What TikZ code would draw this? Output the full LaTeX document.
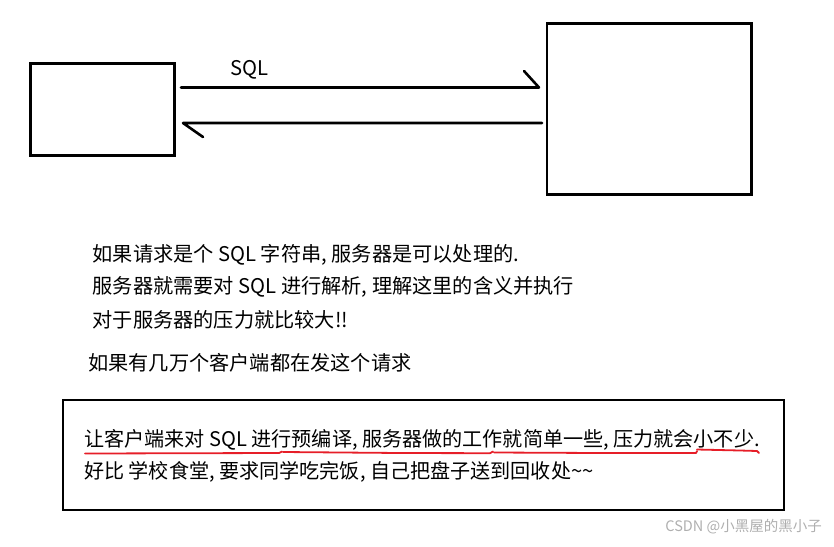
\documentclass[tikz,border=0pt]{standalone}
\usepackage{fontspec}
\setmainfont{Noto Sans CJK SC}
\usetikzlibrary{calc}
\definecolor{ulred}{RGB}{230,30,40}
\definecolor{wmgray}{RGB}{175,175,175}
\begin{document}
\begin{tikzpicture}[x=1pt,y=-1pt,
  box/.style={draw, line width=2.6pt, inner sep=0pt, outer sep=0pt, anchor=north west},
  conn/.style={line width=2.6pt, line join=round, line cap=round},
  txt/.style={anchor=west, inner sep=0pt, font=\fontsize{20.2}{24}\selectfont},
  txtb/.style={anchor=west, inner sep=0pt, font=\fontsize{20.1}{24}\selectfont},
  uline/.style={draw=ulred, line width=1.8pt, line cap=round, line join=round}]
\useasboundingbox (0,0) rectangle (834,546);
% boxes
\node[box, minimum width=144pt, minimum height=92pt] (client) at (30.5,63.5) {};
\node[box, minimum width=204.5pt, minimum height=171pt] (server) at (547,23.5) {};
% connectors
\coordinate (rowa) at (0,87.5);
\coordinate (rowb) at (0,123);
\draw[conn] ([xshift=6.5pt]client.east |- rowa) -- ([xshift=-8pt]server.west |- rowa) -- ++(-15,-16.5);
\draw[conn] ([xshift=-5pt]server.west |- rowb) -- ([xshift=8.5pt]client.east |- rowb) -- ++(20,14);
\node[txt, anchor=center] (sql) at (249,70) {SQL};
% explanation
\node[txt] (l1) at (92.5,255) {如果请求是个 SQL 字符串, 服务器是可以处理的.};
\node[txt] (l2) at (92.5,287) {服务器就需要对 SQL 进行解析, 理解这里的含义并执行};
\node[txt] (l3) at (92.5,320) {对于服务器的压力就比较大!!};
\node[txt] (l4) at (88,363) {如果有几万个客户端都在发这个请求};
% bottom box
\node[box, minimum width=721pt, minimum height=110pt] (note) at (63,400) {};
\node[txtb] (n1) at (84,440) {让客户端来对 SQL 进行预编译, 服务器做的工作就简单一些, 压力就会小不少.};
\node[txtb] (n2) at (84,472) {好比 学校食堂, 要求同学吃完饭, 自己把盘子送到回收处\textasciitilde\textasciitilde};
% red underline
\draw[uline] (85,453.5) -- (200,453.2) -- (279,453) -- (282,451.5);
\draw[uline] (283,452) -- (400,453) -- (490,453.2) -- (493,451.5);
\draw[uline] (494,452.5) -- (600,453) -- (696,453) -- (697,451);
\draw[uline] (697,449.5) -- (740,450.5) -- (757,451) -- (759,453);
% watermark
\node[anchor=east, inner sep=0pt, text=wmgray, font=\fontsize{14.5}{16}\selectfont] (wm) at (822,527) {CSDN @小黑屋的黑小子};
\end{tikzpicture}
\end{document}
